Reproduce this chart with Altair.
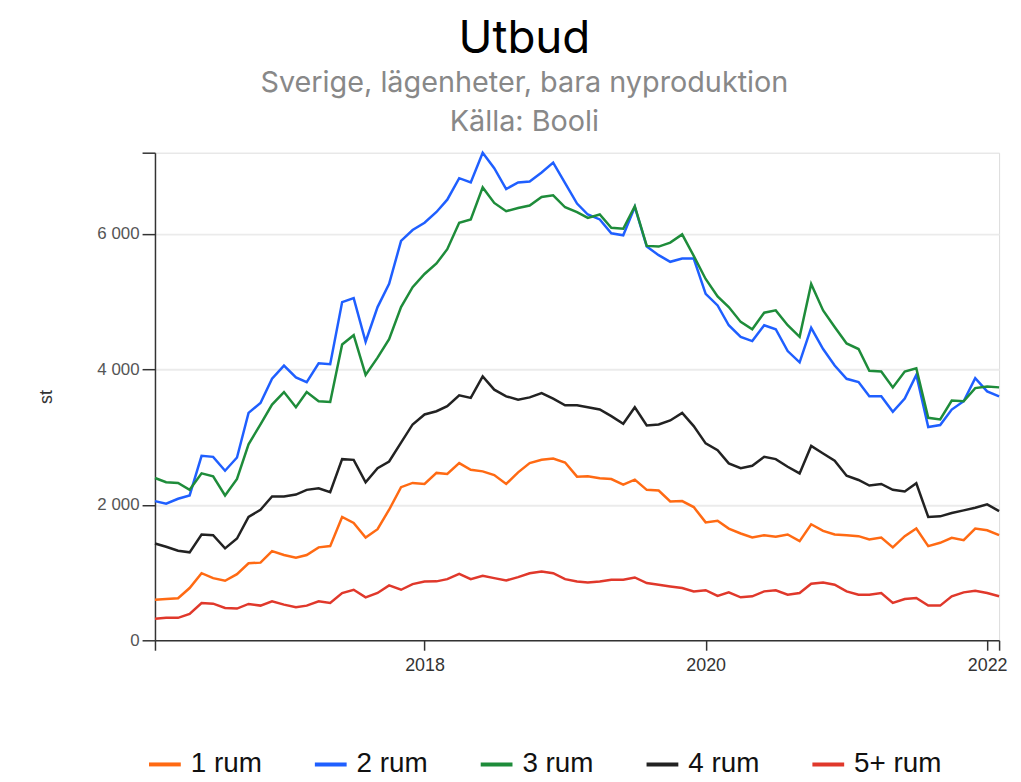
import altair as alt
import pandas as pd

series_names = ["1 rum", "2 rum", "3 rum", "4 rum", "5+ rum"]
series_colors = ["#ff6a13", "#1f5fff", "#1e8c3a", "#222222", "#e0382b"]

start_month = "2016-02-01"
n_months = 73

rum1 = [600, 610, 620, 771, 990, 917, 878, 976, 1137, 1146, 1317, 1259, 1220, 1259, 1371, 1390,
        1820, 1732, 1517, 1639, 1927, 2259, 2322, 2307, 2470, 2454, 2615, 2517, 2493, 2439, 2307,
        2478, 2615, 2663, 2683, 2624, 2415, 2420, 2390, 2380, 2298, 2371, 2220, 2210, 2049, 2054,
        1966, 1740, 1765, 1649, 1576, 1517, 1551, 1527, 1561, 1463, 1712, 1615, 1561, 1551, 1537,
        1488, 1517, 1371, 1537, 1649, 1390, 1439, 1512, 1478, 1649, 1624, 1551]
rum2 = [2054, 2015, 2088, 2137, 2722, 2707, 2502, 2698, 3356, 3502, 3859, 4054, 3878, 3810, 4088,
        4073, 4990, 5049, 4405, 4917, 5259, 5893, 6054, 6161, 6320, 6502, 6819, 6756, 7195, 6966,
        6659, 6756, 6771, 6902, 7049, 6746, 6444, 6283, 6210, 6005, 5976, 6395, 5810, 5683, 5585,
        5634, 5634, 5112, 4941, 4649, 4478, 4415, 4649, 4590, 4268, 4102, 4610, 4298, 4054, 3859,
        3810, 3600, 3600, 3371, 3566, 3917, 3146, 3176, 3405, 3527, 3868, 3673, 3600]
rum3 = [2395, 2332, 2322, 2220, 2463, 2420, 2137, 2380, 2893, 3185, 3478, 3663, 3439, 3663, 3527,
        3517, 4366, 4502, 3917, 4171, 4444, 4917, 5210, 5405, 5560, 5771, 6161, 6210, 6683, 6454,
        6332, 6380, 6415, 6541, 6566, 6390, 6317, 6234, 6283, 6088, 6073, 6405, 5820, 5810, 5868,
        5990, 5673, 5332, 5075, 4917, 4698, 4590, 4834, 4868, 4649, 4478, 5259, 4868, 4624, 4380,
        4298, 3976, 3966, 3732, 3966, 4015, 3283, 3259, 3537, 3527, 3722, 3746, 3732]
rum4 = [1429, 1380, 1322, 1298, 1561, 1551, 1356, 1502, 1820, 1927, 2122, 2122, 2151, 2220, 2244,
        2185, 2673, 2663, 2332, 2541, 2639, 2917, 3185, 3332, 3380, 3454, 3615, 3576, 3893, 3698,
        3600, 3551, 3585, 3649, 3566, 3468, 3468, 3439, 3405, 3307, 3195, 3439, 3171, 3185, 3244,
        3356, 3161, 2905, 2805, 2610, 2541, 2576, 2707, 2673, 2561, 2463, 2868, 2756, 2649, 2429,
        2366, 2283, 2307, 2220, 2195, 2317, 1820, 1829, 1878, 1917, 1956, 2005, 1907]
rum5 = [317, 332, 332, 390, 551, 541, 478, 468, 537, 512, 576, 527, 488, 512, 576, 551, 698, 746,
        634, 698, 810, 746, 829, 868, 870, 902, 980, 902, 951, 917, 883, 932, 990, 1015, 990, 902,
        868, 854, 868, 893, 893, 927, 844, 820, 795, 771, 722, 740, 655, 707, 634, 649, 722, 737,
        673, 698, 834, 854, 820, 722, 673, 673, 698, 551, 610, 624, 512, 512, 649, 707, 732, 698, 649]

y_ticks = [0, 2000, 4000, 6000]
y_max = max(rum2)

dates = pd.date_range(start_month, periods=n_months, freq="MS")
frames = []
for name, vals in zip(series_names, [rum1, rum2, rum3, rum4, rum5]):
    frames.append(pd.DataFrame({"date": dates, "value": vals, "serie": name}))
df = pd.concat(frames, ignore_index=True)

axis_color = "#333333"
label_font = "Liberation Sans"

x_values = [
    alt.DateTime(year=2016, month=2, date=1),
    alt.DateTime(year=2018, month=1, date=1),
    alt.DateTime(year=2020, month=1, date=1),
    alt.DateTime(year=2022, month=1, date=1),
    alt.DateTime(year=2022, month=2, date=1),
]

chart = alt.Chart(df).mark_line(strokeWidth=2.5).encode(
    x=alt.X(
        "date:T",
        scale=alt.Scale(nice=False),
        axis=alt.Axis(
            values=x_values,
            labelExpr="month(datum.value) == 0 ? timeFormat(datum.value, '%Y') : ''",
            title=None,
            grid=False,
            tickSize=10,
            labelFontSize=18,
            labelFont=label_font,
            labelColor="#333333",
            labelPadding=6,
            domainColor=axis_color,
            tickColor=axis_color,
            domainWidth=1.5,
            tickWidth=1.5,
        ),
    ),
    y=alt.Y(
        "value:Q",
        scale=alt.Scale(domain=[0, y_max], nice=False),
        axis=alt.Axis(
            values=y_ticks + [y_max],
            labelExpr="datum.value > 6500 ? '' : replace(format(datum.value, ','), ',', ' ')",
            title="st",
            titleFontSize=18,
            titleFontWeight="normal",
            titleFont=label_font,
            titleColor="#333333",
            titlePadding=42,
            tickSize=13,
            labelFontSize=17,
            labelFont=label_font,
            labelColor="#555555",
            labelPadding=3,
            domainColor=axis_color,
            tickColor=axis_color,
            domainWidth=1.5,
            tickWidth=1.5,
            grid=True,
            gridColor="#ebebeb",
            gridWidth=2,
            gridOpacity={"condition": {"test": "datum.value == 0 || datum.value > 6500", "value": 0}, "value": 1},
        ),
    ),
    color=alt.Color(
        "serie:N",
        scale=alt.Scale(domain=series_names, range=series_colors),
        legend=alt.Legend(
            orient="none",
            legendX=-8,
            legendY=598,
            direction="horizontal",
            columns=5,
            title=None,
            symbolType="stroke",
            symbolSize=1024,
            symbolStrokeWidth=4,
            labelFontSize=28,
            labelFont=label_font,
            labelColor="#111111",
            labelOffset=8,
            columnPadding=45,
        ),
    ),
).properties(
    width=850,
    height=491,
    padding={"left": 29, "top": 6, "right": 5, "bottom": 4},
    title=alt.TitleParams(
        text="Utbud",
        subtitle=["Sverige, lägenheter, bara nyproduktion", "Källa: Booli"],
        fontSize=46,
        font="Inter",
        fontWeight="normal",
        color="#000000",
        subtitleFont="Inter",
        subtitleFontSize=29,
        subtitleColor="#888888",
        subtitleLineHeight=39,
        subtitlePadding=6,
        anchor="middle",
        frame="group",
        dx=-53,
        offset=10,
    ),
).configure_view(stroke=None).configure(background="white")

chart.save("out.html", embed_options={"renderer": "svg", "actions": False})
